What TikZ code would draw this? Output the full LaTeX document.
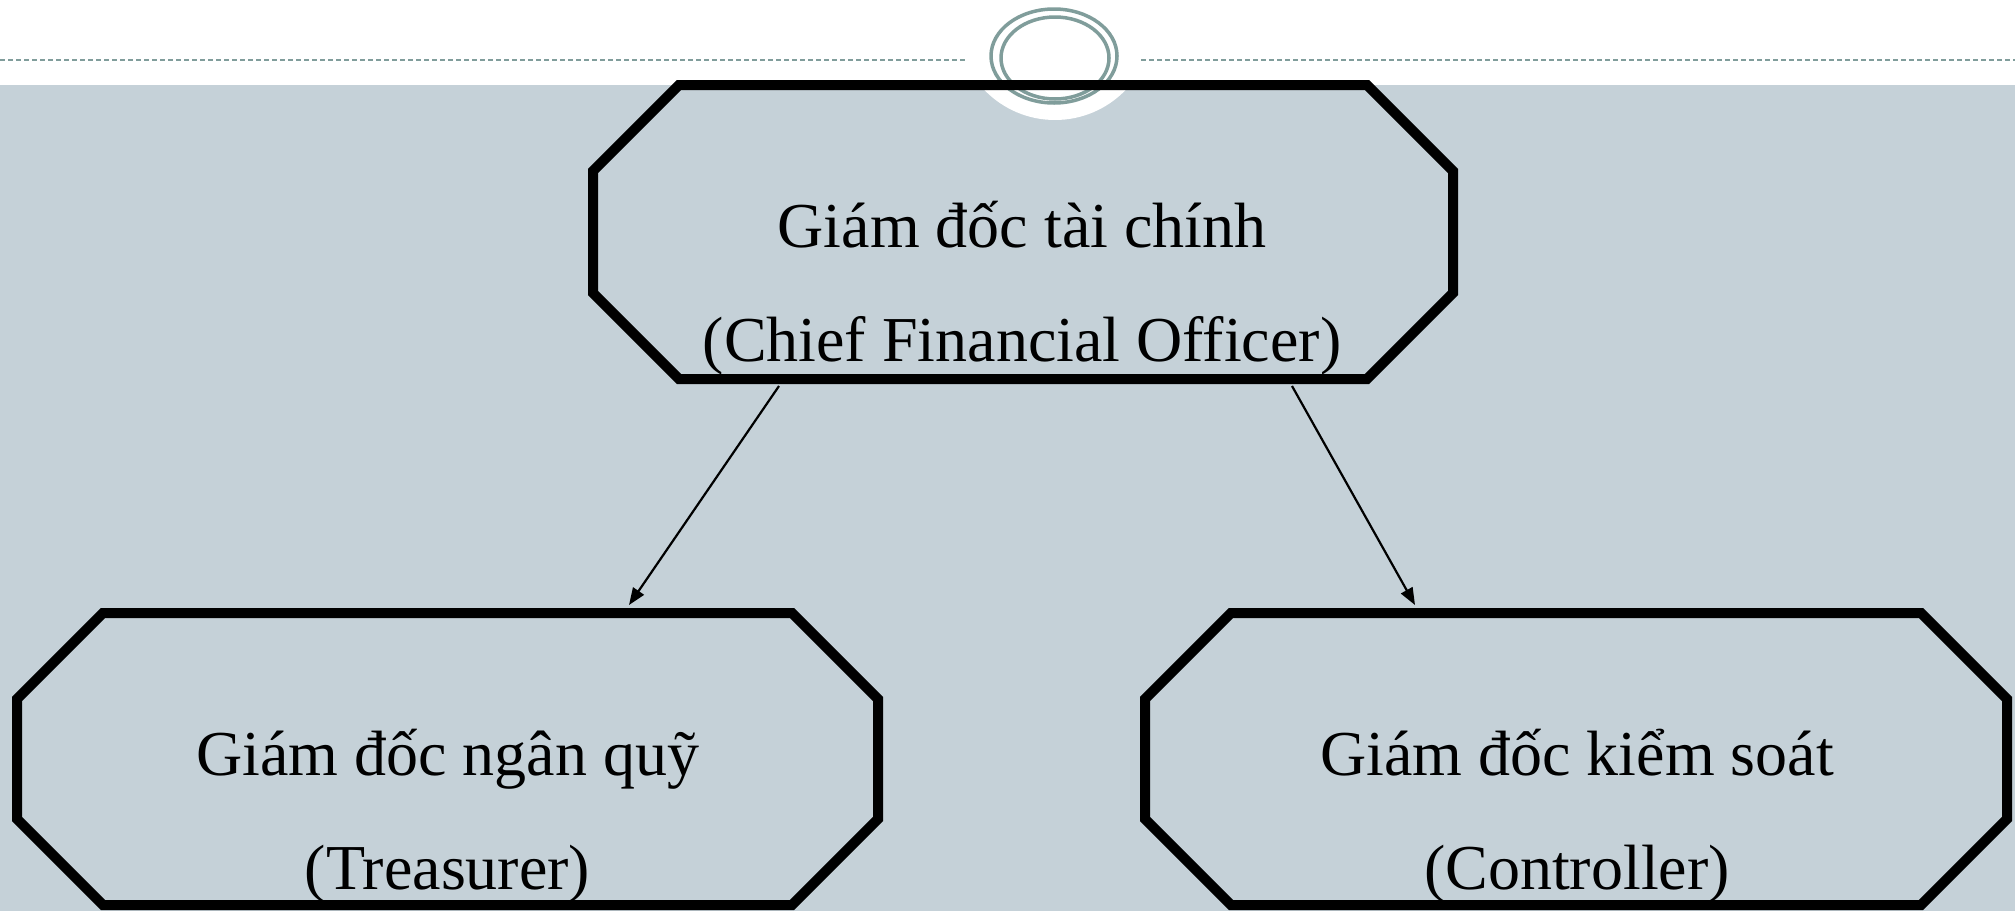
\documentclass[tikz,border=0pt]{standalone}
\usepackage{fontspec}
\setmainfont{Liberation Serif}
\usetikzlibrary{calc,arrows.meta}
\definecolor{slatebg}{RGB}{197,209,216}
\definecolor{ornament}{RGB}{128,157,155}
\tikzset{
  area/.style={inner sep=0pt,outer sep=0pt,draw=none},
  octline/.style={line width=10pt,draw=black,miter limit=10},
  lbl/.style={font=\fontsize{64}{64}\selectfont,anchor=base,inner sep=0pt},
  conn/.style={line width=2.2pt,-{Triangle[length=17pt,width=13pt]}},
  dashline/.style={ornament,line width=2pt,dash pattern=on 5pt off 3pt},
}
\begin{document}
\begin{tikzpicture}[x=1pt,y=-1pt]
\useasboundingbox (0,0) rectangle (2015,911);
\fill[white] (0,0) rectangle (2015,911);
\fill[slatebg] (0,85) rectangle (2015,911);
\fill[white] (1055,22) circle[radius=98pt];
\fill[white] (0,0) rectangle (2015,85);
\draw[dashline] (0,60) -- (967,60);
\draw[dashline] (1141,60) -- (2015,60);
\draw[ornament,line width=3.5pt] (1054,56) ellipse[x radius=63pt,y radius=47pt];
\draw[ornament,line width=3.5pt] (1055,58) ellipse[x radius=54pt,y radius=41pt];

\node[area,minimum width=860pt,minimum height=294pt] (cfo) at (1023,232) {};
\node[area,minimum width=861pt,minimum height=292pt] (tre) at (447.5,759) {};
\node[area,minimum width=862pt,minimum height=292pt] (ctl) at (1576,759) {};
\foreach \b in {cfo,tre,ctl}{
  \draw[octline] ($(\b.north west)+(86pt,0pt)$) -- ($(\b.north east)+(-86pt,0pt)$)
    -- ($(\b.north east)+(0pt,-86pt)$) -- ($(\b.south east)+(0pt,86pt)$)
    -- ($(\b.south east)+(-86pt,0pt)$) -- ($(\b.south west)+(86pt,0pt)$)
    -- ($(\b.south west)+(0pt,86pt)$) -- ($(\b.north west)+(0pt,-86pt)$) -- cycle;
}

\node[lbl] (cfoa) at (1022,247) {Giám đốc tài chính};
\node[lbl] (cfob) at (1022,361) {(Chief Financial Officer)};
\node[lbl] (trea) at (447.5,775) {Giám đốc ngân quỹ};
\node[lbl] (treb) at (447.5,889) {(Treasurer)};
\node[lbl] (ctla) at (1577,775) {Giám đốc kiểm soát};
\node[lbl] (ctlb) at (1577,889) {(Controller)};

\draw[conn] ($(cfo.south)+(-244pt,-7pt)$) -- ($(tre.north)+(181.5pt,8pt)$);
\draw[conn] ($(cfo.south)+(269pt,-7pt)$) -- ($(ctl.north)+(-161pt,8pt)$);
\end{tikzpicture}
\end{document}
